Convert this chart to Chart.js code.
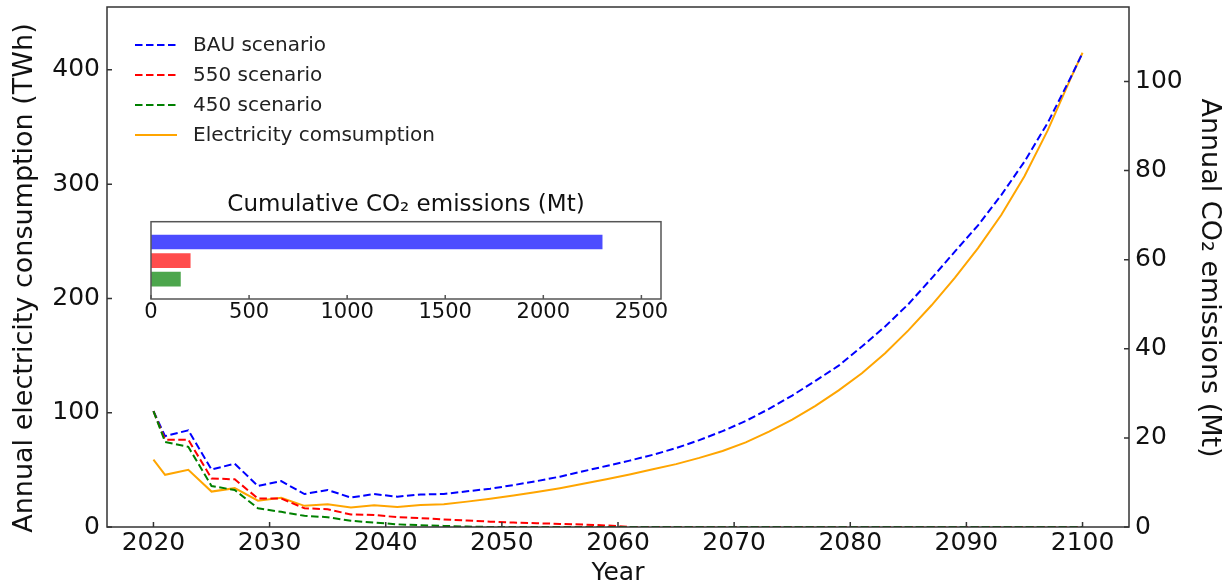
<!DOCTYPE html>
<html><head><meta charset="utf-8">
<script src="https://cdn.jsdelivr.net/npm/chart.js@4"></script>
<style>
html,body{margin:0;padding:0;background:#fff;}
#wrap{position:relative;width:1228px;height:584px;overflow:hidden;}
#main{position:absolute;left:0;top:0;}
#insetBox{position:absolute;left:130px;top:180px;width:560px;height:150px;}
</style></head><body>
<div id="wrap"><canvas id="main" width="1228" height="584"></canvas><div id="insetBox"><canvas id="inset"></canvas></div></div>
<script>
// ---- data ----
const years = [2020,2021,2023,2025,2027,2029,2031,2033,2035,2037,2039,2041,2043,2045,2047,2049,2051,2053,2055,2057,2059,
               2061,2063,2065,2067,2069,2071,2073,2075,2077,2079,2081,2083,2085,2087,2089,2091,2093,2095,2097,2099,2100];
// Annual electricity consumption (TWh), left axis
const electricity = [59,45.7,50,31,34,23,25.5,18.5,20,17,19,17.5,19.2,20,22.2,24.8,27.5,30.6,34,37.8,41.8,
                     46,50.5,55,60.5,66.5,74,83.5,94,106,119.5,134.5,152,172,194,218,244,273,307,347,393,415];
// Annual CO2 emissions (Mt), right axis
const bau = [26,20.4,21.7,12.9,14.2,9.2,10.3,7.4,8.3,6.6,7.4,6.8,7.3,7.4,8.0,8.6,9.4,10.3,11.3,12.5,13.7,
             14.9,16.2,17.7,19.5,21.5,23.8,26.5,29.5,32.8,36.2,40.5,45,50,55.8,61.8,67.7,74.5,82,90.7,101,106.4];
const s550 = [26,19.6,19.6,10.9,10.7,6.4,6.4,4.2,4.0,2.8,2.7,2.2,2.0,1.7,1.45,1.2,1.0,0.85,0.7,0.55,0.35,
              0,0,0,0,0,0,0,0,0,0,0,0,0,0,0,0,0,0,0,0,0];
const s450 = [26,19.1,18.0,9.2,8.3,4.2,3.4,2.5,2.2,1.4,1.0,0.6,0.4,0.25,0.1,0,0,0,0,0,0,
              0,0,0,0,0,0,0,0,0,0,0,0,0,0,0,0,0,0,0,0,0];
const seriesNames = ['BAU scenario','550 scenario','450 scenario','Electricity comsumption'];
const xTicks = [2020,2030,2040,2050,2060,2070,2080,2090,2100];
const leftTicks = [0,100,200,300,400];
const rightTicks = [0,20,40,60,80,100];
// inset: cumulative CO2 emissions (Mt)
const cumScenarios = ['BAU','550','450'];
const cumValues = [2300,200,150];
const insetTicks = [0,500,1000,1500,2000,2500];

// ---- chart ----
const FAM = "'DejaVu Sans', sans-serif";
const pts = arr => years.map((y,i)=>({x:y,y:arr[i]}));
const DASH = [7.5,3.5];
const plain = v => String(v);
const noPad = s => { s.paddingTop=0; s.paddingBottom=0; s.paddingLeft=0; s.paddingRight=0; };

const mainDeco = {
  id:'mainDeco',
  afterDraw(chart){
    const {ctx, chartArea:a, scales} = chart;
    ctx.save();
    ctx.strokeStyle='#333'; ctx.lineWidth=1.5;
    ctx.strokeRect(a.left,a.top,a.right-a.left,a.bottom-a.top);
    ctx.beginPath();
    scales.x.ticks.forEach(t=>{const p=scales.x.getPixelForValue(t.value);ctx.moveTo(p,a.bottom);ctx.lineTo(p,a.bottom-5);});
    scales.y.ticks.forEach(t=>{const p=scales.y.getPixelForValue(t.value);ctx.moveTo(a.left,p);ctx.lineTo(a.left+5,p);});
    scales.y2.ticks.forEach(t=>{const p=scales.y2.getPixelForValue(t.value);ctx.moveTo(a.right,p);ctx.lineTo(a.right-5,p);});
    ctx.stroke();
    // legend
    chart.data.datasets.forEach((ds,i)=>{
      const y = 45 + i*30;
      ctx.beginPath();
      ctx.strokeStyle = ds.borderColor; ctx.lineWidth = 2;
      ctx.setLineDash(ds.borderDash || []);
      ctx.moveTo(135,y); ctx.lineTo(177,y); ctx.stroke();
      ctx.setLineDash([]);
      ctx.fillStyle='#222'; ctx.font = "20px "+FAM; ctx.textBaseline='middle'; ctx.textAlign='left';
      ctx.fillText(ds.label,193,y+1);
    });
    ctx.restore();
  }
};

new Chart(document.getElementById('main'),{
  type:'line',
  data:{datasets:[
    {label:seriesNames[0],data:pts(bau),yAxisID:'y2',borderColor:'#0000ff',borderDash:DASH,borderWidth:2,pointRadius:0,order:2},
    {label:seriesNames[1],data:pts(s550),yAxisID:'y2',borderColor:'#ff0000',borderDash:DASH,borderWidth:2,pointRadius:0,order:1},
    {label:seriesNames[2],data:pts(s450),yAxisID:'y2',borderColor:'#008000',borderDash:DASH,borderWidth:2,pointRadius:0,order:0},
    {label:seriesNames[3],data:pts(electricity),yAxisID:'y',borderColor:'#ffa500',borderWidth:2,pointRadius:0,order:3}
  ]},
  options:{
    responsive:false, animation:false,
    layout:{padding:{top:7,left:0,right:0,bottom:0}},
    plugins:{legend:{display:false},tooltip:{enabled:false}},
    scales:{
      x:{type:'linear',min:2016,max:2104,
         grid:{display:false,drawTicks:false},border:{display:false},
         ticks:{font:{family:FAM,size:25},color:'#111',padding:1,maxRotation:0,autoSkip:false,includeBounds:false,callback:plain},
         afterBuildTicks:s=>{s.ticks=xTicks.map(v=>({value:v}));},
         afterFit:s=>{s.height=57; noPad(s);},
         title:{display:true,text:'Year',color:'#111',font:{family:FAM,size:25,lineHeight:1},padding:{top:0,bottom:-1.5}}},
      y:{type:'linear',position:'left',min:0,max:455,
         grid:{display:false,drawTicks:false},border:{display:false},
         ticks:{font:{family:FAM,size:25},color:'#111',padding:7,autoSkip:false,includeBounds:false,callback:plain},
         afterBuildTicks:s=>{s.ticks=leftTicks.map(v=>({value:v}));},
         afterFit:s=>{s.width=107; noPad(s);},
         title:{display:true,text:'Annual electricity consumption (TWh)\u2002 ',color:'#111',font:{family:FAM,size:27,lineHeight:1.2},padding:{top:9,bottom:0}}},
      y2:{type:'linear',position:'right',min:0,max:116.7,
         grid:{display:false,drawTicks:false},border:{display:false},
         ticks:{font:{family:FAM,size:25},color:'#111',padding:6,autoSkip:false,includeBounds:false,callback:plain},
         afterBuildTicks:s=>{s.ticks=rightTicks.map(v=>({value:v}));},
         afterFit:s=>{s.width=99; noPad(s);},
         title:{display:true,text:' \u2002Annual CO₂ emissions (Mt)',color:'#111',font:{family:FAM,size:27,lineHeight:1.2},padding:{top:3,bottom:0}}}
    }
  },
  plugins:[mainDeco]
});

const insetDeco = {
  id:'insetDeco',
  beforeDatasetsDraw(chart){
    const {ctx, chartArea:a} = chart;
    ctx.save(); ctx.fillStyle='#fff'; ctx.fillRect(a.left,a.top,a.right-a.left,a.bottom-a.top); ctx.restore();
  },
  afterDraw(chart){
    const {ctx, chartArea:a, scales} = chart;
    ctx.save(); ctx.strokeStyle='#555'; ctx.lineWidth=1.5;
    ctx.strokeRect(a.left,a.top,a.right-a.left,a.bottom-a.top);
    ctx.beginPath();
    scales.x.ticks.forEach(t=>{const p=scales.x.getPixelForValue(t.value);ctx.moveTo(p,a.bottom);ctx.lineTo(p,a.bottom-4);});
    ctx.stroke(); ctx.restore();
  }
};

new Chart(document.getElementById('inset'),{
  type:'bar',
  data:{datasets:[{
    label:'Cumulative CO₂ emissions',
    data:cumValues.map((v,i)=>({x:v,y:cumValues.length-1-i})),
    backgroundColor:['rgba(0,0,255,0.7)','rgba(255,0,0,0.7)','rgba(0,128,0,0.7)'],
    borderWidth:0,barThickness:14
  }]},
  options:{
    indexAxis:'y',responsive:true,maintainAspectRatio:false,animation:false,
    layout:{padding:{left:21,right:29,top:0,bottom:0}},
    plugins:{legend:{display:false},tooltip:{enabled:false},
      title:{display:true,text:'Cumulative CO₂ emissions (Mt)',color:'#111',font:{family:FAM,size:23,weight:'normal',lineHeight:1.2},padding:{top:11.5,bottom:2.6}}},
    scales:{
      x:{type:'linear',min:0,max:2600,grid:{display:false,drawTicks:false},border:{display:false},
         ticks:{font:{family:FAM,size:21},color:'#111',padding:1,maxRotation:0,autoSkip:false,includeBounds:false,callback:plain},
         afterBuildTicks:s=>{s.ticks=insetTicks.map(v=>({value:v}));},
         afterFit:s=>{s.height=31; noPad(s);}},
      y:{type:'linear',min:-1.065,max:3.09,offset:false,display:true,
         grid:{display:false,drawTicks:false},border:{display:false},ticks:{display:false},
         afterFit:s=>{s.width=0; noPad(s);}}
    }
  },
  plugins:[insetDeco]
});
</script>
</body></html>
